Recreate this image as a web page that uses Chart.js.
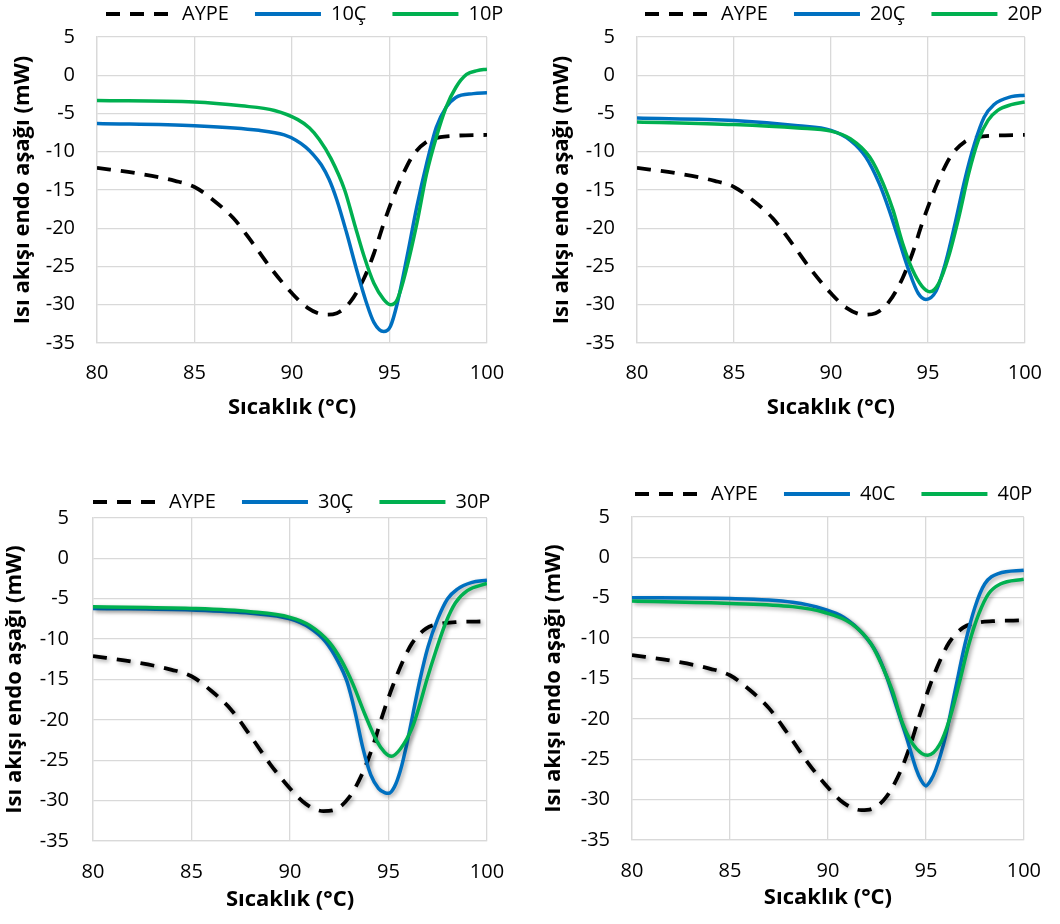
<!DOCTYPE html>
<html>
<head>
<meta charset="utf-8">
<script src="https://cdn.jsdelivr.net/npm/chart.js@4.4.1/dist/chart.umd.min.js"></script>
<style>
  body { margin: 0; background: #fff; width: 1060px; height: 924px; position: relative; overflow: hidden; }
  canvas { position: absolute; }
</style>
</head>
<body>
<canvas id="c1" width="530" height="423" style="left:0;top:0"></canvas>
<canvas id="c2" width="530" height="423" style="left:530px;top:0"></canvas>
<canvas id="c3" width="530" height="462" style="left:0;top:462px"></canvas>
<canvas id="c4" width="530" height="462" style="left:530px;top:462px"></canvas>
<script>
// axis ticks
const tempTicks = [80, 85, 90, 95, 100];
const flowTicks = [-35, -30, -25, -20, -15, -10, -5, 0, 5];

// reference polymer (same curve in all four panels)
const aypeT  = [80, 82, 84, 85, 86, 87, 88, 89, 90, 90.8, 91.7, 92.3, 93.0, 93.7, 94.2, 94.7, 95.2, 95.7, 96.2, 96.9, 97.6, 98.4, 100];
const aypeHF = [-12.1, -12.8, -13.8, -14.6, -16.4, -18.7, -22.0, -25.5, -28.5, -30.4, -31.3, -31.1, -29.6, -26.5, -23.3, -19.4, -15.9, -12.9, -10.5, -8.7, -8.1, -7.9, -7.8];

const t10C  = [80, 85, 88.3, 89.6, 90.2, 90.7, 91.1, 91.5, 91.9, 92.3, 92.8, 93.3, 93.8, 94.2, 94.7, 95.05, 95.4, 95.9, 96.4, 96.9, 97.4, 97.9, 98.4, 99.3, 100];
const hf10C = [-6.3, -6.6, -7.2, -7.8, -8.5, -9.4, -10.4, -11.7, -13.6, -16.3, -20.6, -25.3, -29.6, -32.3, -33.5, -32.8, -29.8, -23.7, -17.2, -11.6, -6.8, -4.2, -2.9, -2.4, -2.3];
const t10P  = [80, 85, 87.4, 89.1, 90.3, 90.9, 91.4, 92.0, 92.7, 93.2, 93.7, 94.2, 94.7, 95.05, 95.4, 95.9, 96.4, 96.9, 97.4, 97.9, 98.4, 98.95, 99.5, 100];
const hf10P = [-3.3, -3.5, -4.0, -4.6, -5.8, -6.9, -8.4, -10.9, -15.0, -19.4, -23.7, -27.2, -29.3, -30.0, -29.3, -25.0, -19.4, -12.9, -8.1, -4.2, -1.6, 0.1, 0.6, 0.8];

const t20C  = [80, 85, 88.3, 90, 91, 91.8, 92.5, 93.0, 93.5, 94.0, 94.5, 94.9, 95.4, 95.9, 96.4, 96.9, 97.4, 97.9, 98.4, 99.3, 100];
const hf20C = [-5.6, -5.9, -6.6, -7.2, -8.5, -10.7, -14.2, -17.6, -21.5, -25.4, -28.5, -29.3, -28.3, -24.6, -19.4, -13.7, -9.0, -5.5, -3.85, -2.8, -2.6];
const t20P  = [80, 85, 88.3, 90, 91, 92.0, 92.7, 93.2, 93.7, 94.2, 94.7, 95.1, 95.56, 96.07, 96.6, 97.1, 97.6, 98.1, 98.6, 99.3, 100];
const hf20P = [-6.1, -6.45, -6.9, -7.3, -8.3, -10.7, -14.2, -17.6, -22.0, -25.4, -27.6, -28.3, -27.2, -23.7, -18.5, -12.9, -8.5, -5.9, -4.6, -3.85, -3.5];

const t30C  = [80, 85, 88, 90, 91, 91.8, 92.4, 92.9, 93.3, 93.7, 94.1, 94.5, 94.8, 95.0, 95.3, 95.6, 95.9, 96.6, 97.0, 97.5, 98.0, 98.5, 99.2, 100];
const hf30C = [-6.2, -6.4, -6.8, -7.5, -8.6, -10.3, -12.6, -15.3, -19.0, -23.5, -26.8, -28.5, -29.0, -29.1, -28.3, -26.3, -23.3, -15.0, -11.0, -7.5, -5.0, -3.8, -3.0, -2.7];
const t30P  = [80, 85, 88, 90, 91, 92, 92.6, 93.2, 93.8, 94.4, 94.8, 95.15, 95.6, 96.2, 96.6, 96.95, 97.4, 97.9, 98.4, 99.0, 100];
const hf30P = [-6.0, -6.2, -6.6, -7.3, -8.3, -10.4, -12.6, -15.6, -19.3, -22.6, -24.0, -24.5, -23.6, -21.0, -18.0, -15.0, -11.5, -8.0, -5.5, -4.0, -3.1];

const t40C  = [80, 85, 88.2, 89.8, 90.8, 91.8, 92.5, 93.0, 93.5, 94.0, 94.5, 94.75, 95.0, 95.25, 95.5, 96.0, 96.5, 97.0, 97.5, 98.0, 98.7, 100];
const hf40C = [-5.0, -5.1, -5.55, -6.4, -7.4, -9.5, -11.9, -14.8, -18.5, -22.2, -26.2, -27.6, -28.3, -27.6, -26.3, -22.2, -16.4, -10.7, -6.2, -3.3, -2.0, -1.6];
const t40P  = [80, 85, 88.2, 89.8, 91.2, 92.2, 92.8, 93.3, 93.8, 94.3, 94.8, 95.1, 95.7, 96.2, 96.7, 97.2, 97.7, 98.2, 98.8, 100];
const hf40P = [-5.4, -5.7, -6.1, -6.8, -8.2, -10.7, -13.6, -16.6, -20.5, -23.0, -24.3, -24.5, -23.2, -20.1, -15.6, -10.7, -7.0, -4.5, -3.3, -2.7];

const seriesNames = [
  ['AYPE', '10Ç', '10P'],
  ['AYPE', '20Ç', '20P'],
  ['AYPE', '30Ç', '30P'],
  ['AYPE', '40C', '40P']
];
const seriesData = [
  [[aypeT, aypeHF], [t10C, hf10C], [t10P, hf10P]],
  [[aypeT, aypeHF], [t20C, hf20C], [t20P, hf20P]],
  [[aypeT, aypeHF], [t30C, hf30C], [t30P, hf30P]],
  [[aypeT, aypeHF], [t40C, hf40C], [t40P, hf40P]]
];

// plot-area placement inside each canvas
const layouts = [
  { id: 'c1', area: { l: 97,  r: 487, t: 37, b: 343 }, yTitleX: 23, tickGap: 22, xTickPad: 18, xTitleY: 408, legend: { x: 106, y: 14 }, shadow: false },
  { id: 'c2', area: { l: 107, r: 497, t: 37, b: 343 }, yTitleX: 32, tickGap: 22, xTickPad: 18, xTitleY: 408, legend: { x: 115, y: 14 }, shadow: false },
  { id: 'c3', area: { l: 93,  r: 487, t: 57, b: 379 }, yTitleX: 15, tickGap: 24, xTickPad: 19, xTitleY: 438, legend: { x: 93,  y: 40 }, shadow: true },
  { id: 'c4', area: { l: 102, r: 497, t: 55, b: 378 }, yTitleX: 24, tickGap: 22, xTickPad: 19, xTitleY: 436, legend: { x: 105, y: 32 }, shadow: true }
];

const colors = ['#000000', '#0070C0', '#00B050'];
const FONT = 'Open Sans';

// move the legend to where it sits in the reference (it clips to its own box)
const legendPlace = {
  id: 'legendPlace',
  beforeDraw(chart, args, opts) {
    const lg = chart.legend;
    const pad = lg.options.labels.padding;
    const fs = lg.options.labels.font.size;
    const w = lg.width;
    lg.left = opts.x - pad;
    lg.right = lg.left + w;
    lg.top = opts.y - pad - fs / 2;
    lg.bottom = opts.y + fs;
  }
};

const lineShadow = {
  id: 'lineShadow',
  beforeDatasetsDraw(chart, args, opts) {
    if (!opts.on) return;
    const c = chart.ctx;
    c.save();
    c.shadowColor = 'rgba(0,0,0,0.35)';
    c.shadowBlur = 4;
    c.shadowOffsetX = 2;
    c.shadowOffsetY = 2;
  },
  afterDatasetsDraw(chart, args, opts) {
    if (opts.on) chart.ctx.restore();
  }
};

function pts(t, v) {
  return t.map((x, i) => ({ x: x, y: v[i] }));
}

layouts.forEach((L, p) => {
  const canvas = document.getElementById(L.id);
  const H = canvas.height, W = canvas.width;
  const datasets = seriesData[p].map((s, k) => ({
    label: seriesNames[p][k],
    data: pts(s[0], s[1]),
    borderColor: colors[k],
    backgroundColor: colors[k],
    borderWidth: k === 0 ? 3.8 : 3.5,
    borderDash: k === 0 ? [14, 10] : [],
    pointRadius: 0,
    cubicInterpolationMode: 'monotone',
    fill: false,
    order: 3 - k
  }));

  new Chart(canvas, {
    type: 'line',
    data: { datasets },
    options: {
      responsive: false,
      animation: false,
      layout: { padding: { left: 0, top: 0, right: W - L.area.r, bottom: 0 } },
      scales: {
        x: {
          type: 'linear',
          min: tempTicks[0],
          max: tempTicks[tempTicks.length - 1],
          afterBuildTicks: s => { s.ticks = tempTicks.map(v => ({ value: v })); },
          afterFit: s => { s.height = H - L.area.b; },
          grid: { color: '#d9d9d9', lineWidth: 1.3, drawTicks: false },
          border: { color: '#d9d9d9', width: 1.3 },
          ticks: { padding: L.xTickPad, color: '#000', font: { family: FONT, size: 20 } },
          title: {
            display: true, text: 'Sıcaklık (°C)', color: '#000',
            font: { family: FONT, size: 22, weight: 'bold' },
            padding: { top: 0, bottom: H - L.xTitleY - 13.2 }
          }
        },
        y: {
          min: flowTicks[0],
          max: flowTicks[flowTicks.length - 1],
          afterBuildTicks: s => { s.ticks = flowTicks.map(v => ({ value: v })); },
          afterFit: s => { s.width = L.area.l; },
          grid: { color: '#d9d9d9', lineWidth: 1.3, drawTicks: false },
          border: { color: '#d9d9d9', width: 1.3 },
          ticks: { padding: L.tickGap, color: '#000', font: { family: FONT, size: 20 } },
          title: {
            display: true, text: 'Isı akışı endo aşağı (mW)', color: '#000',
            font: { family: FONT, size: 22, weight: 'bold' },
            padding: { top: L.yTitleX - 13.2, bottom: 0 }
          }
        }
      },
      plugins: {
        legend: {
          position: 'top',
          align: 'start',
          maxHeight: L.area.t,
          labels: {
            usePointStyle: true,
            pointStyle: 'line',
            pointStyleWidth: 66,
            padding: 26,
            color: '#000',
            font: { family: FONT, size: 20 },
            generateLabels: chart => chart.data.datasets.map((ds, i) => ({
              text: ds.label,
              datasetIndex: i,
              fillStyle: ds.borderColor,
              strokeStyle: ds.borderColor,
              fontColor: '#000',
              lineWidth: 3.8,
              lineDash: ds.borderDash,
              lineCap: 'butt',
              pointStyle: 'line',
              hidden: false
            }))
          }
        },
        tooltip: { enabled: false },
        legendPlace: L.legend,
        lineShadow: { on: L.shadow }
      }
    },
    plugins: [legendPlace, lineShadow]
  });
});
</script>
</body>
</html>
